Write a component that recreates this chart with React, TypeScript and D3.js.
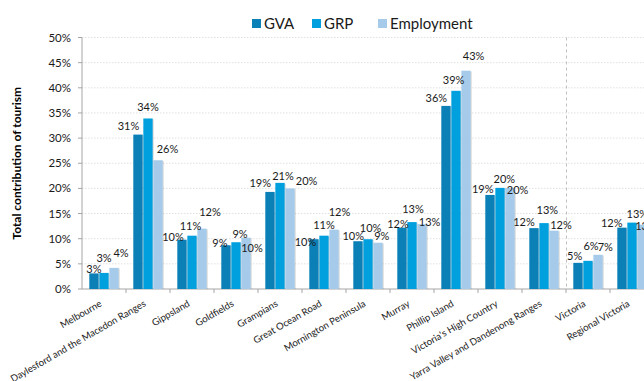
import React from 'react';
import * as d3 from 'd3';

const categories = [
  'Melbourne',
  'Daylesford and the Macedon Ranges',
  'Gippsland',
  'Goldfields',
  'Grampians',
  'Great Ocean Road',
  'Mornington Peninsula',
  'Murray',
  'Phillip Island',
  "Victoria's High Country",
  'Yarra Valley and Dandenong Ranges',
  'Victoria',
  'Regional Victoria',
];

const seriesNames = ['GVA', 'GRP', 'Employment'];
const gvaValues = [3.1, 30.7, 9.8, 8.7, 19.3, 9.9, 9.5, 12.2, 36.4, 18.7, 12.1, 5.2, 12.2];
const grpValues = [3.2, 33.9, 10.6, 9.3, 21.1, 10.6, 9.9, 13.3, 39.4, 20.1, 13.1, 5.6, 13.2];
const employmentValues = [4.2, 25.6, 12.0, 10.2, 20.0, 11.8, 9.2, 12.9, 43.4, 20.1, 11.6, 6.8, 12.8];
const yTickValues = [0, 5, 10, 15, 20, 25, 30, 35, 40, 45, 50];
const separatorBefore = 'Victoria';

// label nudges (style): horizontal shift and gap above bar top
const labelDx = [
  [0, -9.5, -9, -6, -9.7, -8.5, -4.7, -4, -9.6, -7.3, -10, -3.3, -10.3],
  [0, 0, -1.5, 4, 3, 0, 2.6, 1, -2.4, 4.3, 3.3, 3, 5.3],
  [7, 9.5, 8, 6, 16.6, 5.4, 3.8, 7.6, 7.6, 7.6, 7, 7.3, 4],
];
const labelGap = [
  [0, 4.7, -1.7, -1.3, 5, -6.7, 1.6, -0.6, 4.4, 1.7, 2, 3, 1],
  [11, 7, 6, 4.4, 3, 6.7, 7.3, 9.3, 6.4, 5, 8.7, 10.6, 5],
  [11, 7.7, 12.3, -14, 3, 14, 2.3, -2, 10.7, -6, 2, 4, -5],
];

const colors = ['#0a80b6', '#00a0df', '#a6cbea'];
const W = 644;
const H = 381;
const FONT = 'Lato, "Open Sans", sans-serif';

export default function App() {
  const seriesValues = [gvaValues, grpValues, employmentValues];
  const left = 82;
  const step = 44;
  const x = d3
    .scaleBand<string>()
    .domain(categories)
    .range([left, left + step * categories.length])
    .padding(0);
  const inner = d3
    .scaleBand<string>()
    .domain(seriesNames)
    .range([7.3, 36.7])
    .paddingInner(0.07);
  const y = d3.scaleLinear().domain([0, 50]).range([289, 37.5]);
  const y0 = y(0);
  const sepX = x(separatorBefore)!;

  const legendItems = [
    { name: seriesNames[0], x: 252 },
    { name: seriesNames[1], x: 312 },
    { name: seriesNames[2], x: 378 },
  ];

  return (
    <svg
      width={W}
      height={H}
      style={{ position: 'absolute', left: 0, top: 0, background: '#fff' }}
      fontFamily={FONT}
    >
      <rect x={0} y={0} width={W} height={H} fill="#fff" />
      {/* gridlines */}
      {yTickValues
        .filter((t) => t > 0)
        .map((t) => (
          <line
            key={'g' + t}
            x1={left}
            x2={W}
            y1={y(t)}
            y2={y(t)}
            stroke="#d9d9d9"
            strokeWidth={0.8}
            strokeDasharray="1.5,1.5"
          />
        ))}
      {/* separator */}
      <line
        x1={sepX + 0.5}
        x2={sepX + 0.5}
        y1={y(50)}
        y2={y0}
        stroke="#b0b0b0"
        strokeWidth={0.8}
        strokeDasharray="3,3"
      />
      {/* y axis */}
      <line x1={left} x2={left} y1={y(50)} y2={y0} stroke="#a6a6a6" strokeWidth={1} />
      {yTickValues.map((t) => (
        <g key={'yt' + t}>
          <line x1={left - 4} x2={left} y1={y(t)} y2={y(t)} stroke="#a6a6a6" strokeWidth={1} />
          <text
            x={left - 11}
            y={y(t)}
            dy="0.35em"
            textAnchor="end"
            fontSize={11.5}
            fill="#1a1a1a"
          >
            {t + '%'}
          </text>
        </g>
      ))}
      {/* x axis */}
      <line x1={left} x2={W} y1={y0} y2={y0} stroke="#a6a6a6" strokeWidth={1} />
      {categories.map((c) => (
        <line
          key={'xt' + c}
          x1={x(c)! + step}
          x2={x(c)! + step}
          y1={y0}
          y2={y0 + 4}
          stroke="#a6a6a6"
          strokeWidth={1}
        />
      ))}
      {/* bars */}
      {categories.map((c, i) => (
        <g key={'bars' + c}>
          {seriesNames.map((s, k) => {
            const v = seriesValues[k][i];
            const bx = x(c)! + inner(s)!;
            const by = y(v);
            return (
              <g key={s}>
                <rect
                  x={bx + 1.2}
                  y={by + 0.8}
                  width={inner.bandwidth()}
                  height={y0 - by - 0.8}
                  fill="#000"
                  opacity={0.12}
                />
                <rect x={bx} y={by} width={inner.bandwidth()} height={y0 - by} fill={colors[k]} />
              </g>
            );
          })}
        </g>
      ))}
      {/* data labels */}
      {categories.map((c, i) => (
        <g key={'lab' + c}>
          {seriesNames.map((s, k) => {
            const v = seriesValues[k][i];
            const cx = x(c)! + inner(s)! + inner.bandwidth() / 2 + labelDx[k][i];
            return (
              <text
                key={s}
                x={cx}
                y={y(v) - labelGap[k][i]}
                textAnchor="middle"
                fontSize={11}
                fill="#1a1a1a"
              >
                {Math.round(v) + '%'}
              </text>
            );
          })}
        </g>
      ))}
      {/* x labels */}
      {categories.map((c) => {
        const cx = x(c)! + step / 2;
        return (
          <text
            key={'xl' + c}
            transform={`translate(${cx - 1.5},${y0 + 16.5}) rotate(-30)`}
            textAnchor="end"
            fontSize={9.6}
            fill="#1a1a1a"
          >
            {c}
          </text>
        );
      })}
      {/* y title */}
      <text
        transform={`translate(21,${(y(50) + y0) / 2}) rotate(-90)`}
        textAnchor="middle"
        fontSize={12}
        fontWeight="bold"
        fill="#000"
      >
        Total contribution of tourism
      </text>
      {/* legend */}
      {legendItems.map((it, k) => (
        <g key={'lg' + it.name}>
          <rect x={it.x} y={19} width={9} height={9} fill={colors[k]} />
          <text x={it.x + 12} y={28.5} fontSize={15} fill="#1a1a1a">
            {it.name}
          </text>
        </g>
      ))}
    </svg>
  );
}
